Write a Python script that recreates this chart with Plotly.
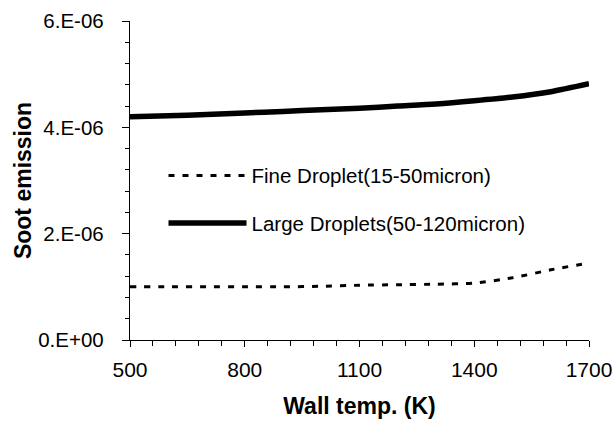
import plotly.graph_objects as go

temps = [500, 600, 700, 800, 900, 1000, 1100, 1200, 1300, 1400, 1500, 1600, 1700]
fine_droplet = [1.00e-6, 1.00e-6, 1.00e-6, 1.00e-6, 1.00e-6, 1.01e-6, 1.03e-6,
                1.04e-6, 1.05e-6, 1.07e-6, 1.17e-6, 1.32e-6, 1.45e-6]
large_droplets = [4.20e-6, 4.22e-6, 4.24e-6, 4.27e-6, 4.30e-6, 4.33e-6, 4.36e-6,
                  4.40e-6, 4.44e-6, 4.50e-6, 4.57e-6, 4.67e-6, 4.82e-6]

x_ticks = [500, 800, 1100, 1400, 1700]
y_ticks = [0, 2e-6, 4e-6, 6e-6]
y_tick_labels = ["0.E+00", "2.E-06", "4.E-06", "6.E-06"]

FONT = "Liberation Sans, Arial, sans-serif"

fig = go.Figure()
fig.add_trace(go.Scatter(
    x=temps, y=fine_droplet, mode="lines", name="Fine Droplet(15-50micron)",
    line=dict(color="black", width=3, dash="6px,8px", shape="spline", smoothing=0.7),
    legendgroup="a",
))
fig.add_trace(go.Scatter(
    x=temps, y=large_droplets, mode="lines", name="Large Droplets(50-120micron)",
    line=dict(color="black", width=5.5, shape="spline", smoothing=0.7),
    legendgroup="b",
))

xr = [500, 1700]
yr = [0, 6e-6]

fig.update_layout(
    width=614, height=425,
    margin=dict(l=130, r=25, t=21, b=85, autoexpand=False),
    paper_bgcolor="white", plot_bgcolor="white",
    font=dict(family=FONT, size=20, color="black"),
    showlegend=True,
    legend=dict(
        x=0.073, y=0.44, xanchor="left", yanchor="middle",
        bgcolor="rgba(0,0,0,0)", font=dict(size=20.5, family=FONT),
        itemwidth=78, tracegroupgap=18,
    ),
    xaxis=dict(
        range=xr, tickvals=x_ticks, ticks="outside", ticklen=6, tickwidth=1.3,
        tickcolor="black", showline=True, linecolor="black", linewidth=1.3,
        showgrid=False, zeroline=False, ticklabelstandoff=5, automargin=False,
        minor=dict(dtick=60, tick0=500, ticks="outside", ticklen=5, tickcolor="black", tickwidth=1),
        title=dict(text="<b>Wall temp. (K)</b>", font=dict(size=23, family=FONT), standoff=17),
        tickfont=dict(size=21),
    ),
    xaxis2=dict(
        range=xr, overlaying="x", anchor="y", side="bottom", tickvals=x_ticks,
        ticks="inside", ticklen=7, tickwidth=1.3, tickcolor="black",
        showticklabels=False, showline=False, showgrid=False, zeroline=False,
    ),
    xaxis3=dict(
        range=xr, overlaying="x", anchor="y", side="top", showline=True,
        linecolor="#808080", linewidth=1, ticks="", showticklabels=False,
        showgrid=False, zeroline=False,
    ),
    yaxis=dict(
        range=yr, tickvals=y_ticks, ticktext=y_tick_labels, ticks="outside",
        ticklen=7, tickwidth=1.3, tickcolor="black", showline=True,
        linecolor="black", linewidth=1.3, showgrid=False, zeroline=False,
        ticklabelstandoff=14, automargin=False,
        minor=dict(dtick=0.4e-6, tick0=0, ticks="outside", ticklen=4, tickcolor="black", tickwidth=1),
        title=dict(text="<b>Soot emission</b>", font=dict(size=23, family=FONT), standoff=0),
        tickfont=dict(size=20.5),
    ),
    yaxis2=dict(
        range=yr, overlaying="y", anchor="x", side="left", tickvals=y_ticks,
        ticks="inside", ticklen=7, tickwidth=1.3, tickcolor="black",
        showticklabels=False, showline=False, showgrid=False, zeroline=False,
    ),
    yaxis3=dict(
        range=yr, overlaying="y", anchor="x", side="right", showline=True,
        linecolor="#808080", linewidth=1, ticks="", showticklabels=False,
        showgrid=False, zeroline=False,
    ),
)

fig.write_html(
    "out.html",
    config={"displayModeBar": False},
    post_script="document.body.style.margin='0';document.body.style.padding='0';",
)
